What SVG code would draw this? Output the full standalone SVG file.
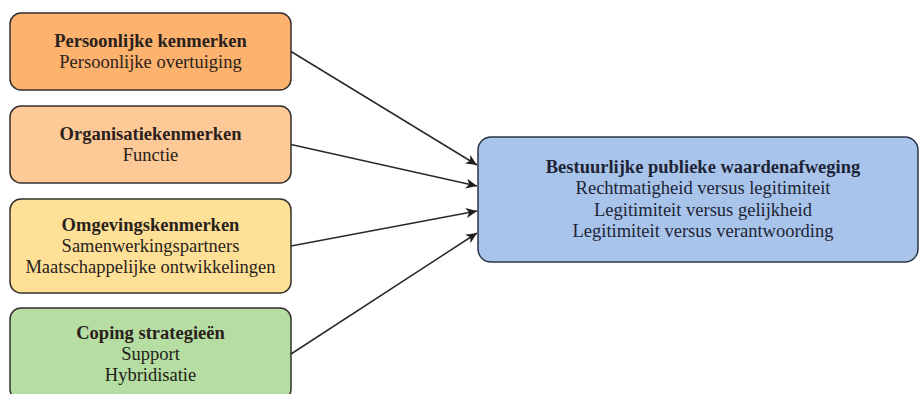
<svg xmlns="http://www.w3.org/2000/svg" width="919" height="394" viewBox="0 0 919 394">
  <defs>
    <marker id="arrow" markerUnits="userSpaceOnUse" markerWidth="12" markerHeight="10" refX="11" refY="5" orient="auto">
      <path d="M0,0 L11,5 L0,10 L3,5 Z" fill="#1e1e1e"/>
    </marker>
    <style>
      .box { stroke: #33302e; stroke-width: 1.5; }
      .t { font-family: "Liberation Serif", "Times New Roman", serif; font-size: 18.5px; text-anchor: middle; fill: #2a211c; }
      .b { font-weight: bold; }
      .edge { fill: none; stroke: #2a2a2a; stroke-width: 1.5; marker-end: url(#arrow); }
    </style>
  </defs>
  <rect width="919" height="394" fill="#ffffff"/>

  <g id="persoonlijke-kenmerken">
    <rect class="box" x="10" y="13" width="281" height="77" rx="11" fill="#fdb26e"/>
    <text class="t b" x="150.5" y="47">Persoonlijke kenmerken</text>
    <text class="t" x="150.5" y="68">Persoonlijke overtuiging</text>
  </g>

  <g id="organisatiekenmerken">
    <rect class="box" x="10" y="106" width="281" height="77" rx="11" fill="#fdc997"/>
    <text class="t b" x="150.5" y="140">Organisatiekenmerken</text>
    <text class="t" x="150.5" y="161">Functie</text>
  </g>

  <g id="omgevingskenmerken">
    <rect class="box" x="10" y="199" width="281" height="94" rx="11" fill="#fee197"/>
    <text class="t b" x="150.5" y="231">Omgevingskenmerken</text>
    <text class="t" x="150.5" y="252">Samenwerkingspartners</text>
    <text class="t" x="150.5" y="273">Maatschappelijke ontwikkelingen</text>
  </g>

  <g id="coping-strategieen">
    <rect class="box" x="10" y="308" width="281" height="92" rx="11" fill="#b6dda2"/>
    <text class="t b" x="150.5" y="339" fill="#1c2218">Coping strategieën</text>
    <text class="t" x="150.5" y="360" style="fill:#1c2218">Support</text>
    <text class="t" x="150.5" y="381" style="fill:#1c2218">Hybridisatie</text>
  </g>

  <g id="bestuurlijke-waardenafweging">
    <rect class="box" x="478" y="137" width="440" height="125" rx="13" fill="#a9c4eb" style="stroke:#2b3347"/>
    <text class="t b" x="703" y="172.5" style="fill:#1d2436">Bestuurlijke publieke waardenafweging</text>
    <text class="t" x="703" y="194" style="fill:#1d2436">Rechtmatigheid versus legitimiteit</text>
    <text class="t" x="703" y="215.5" style="fill:#1d2436">Legitimiteit versus gelijkheid</text>
    <text class="t" x="703" y="237" style="fill:#1d2436">Legitimiteit versus verantwoording</text>
  </g>

  <g id="connectors">
    <line class="edge" x1="291" y1="51.5" x2="477" y2="165"/>
    <line class="edge" x1="291" y1="144.5" x2="477" y2="186"/>
    <line class="edge" x1="291" y1="246" x2="477" y2="211"/>
    <line class="edge" x1="291" y1="354" x2="477" y2="233"/>
  </g>
</svg>
